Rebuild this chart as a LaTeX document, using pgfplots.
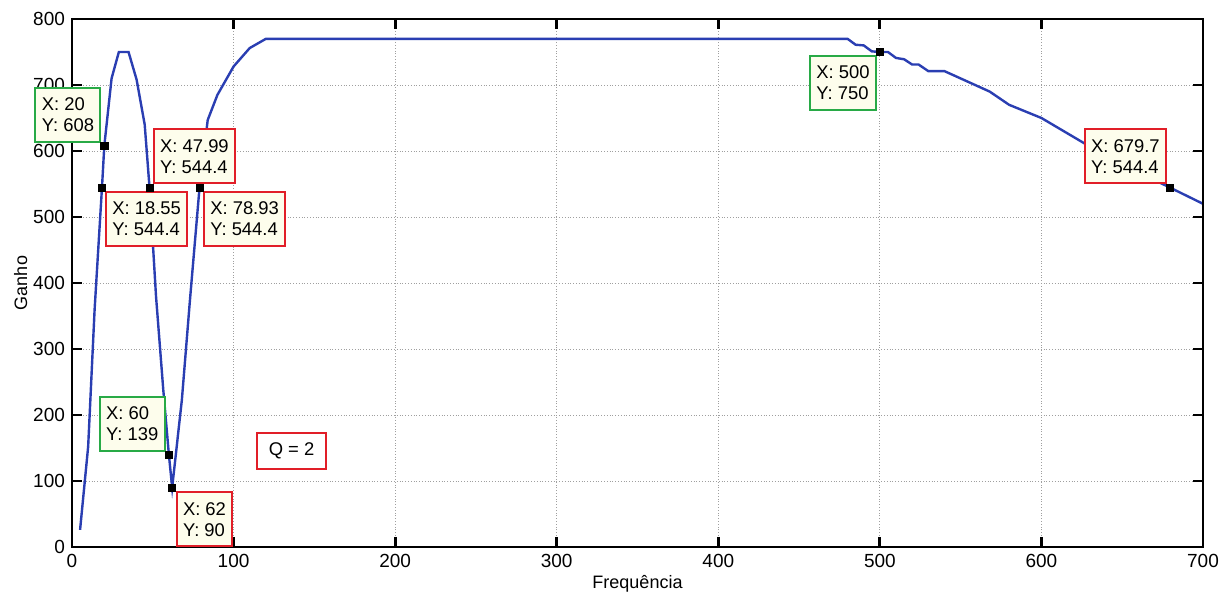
\documentclass[border=0pt]{standalone}
\usepackage{fontspec}
\setmainfont{Liberation Sans}
\usepackage{pgfplots}
\pgfplotsset{compat=1.18}
\definecolor{curveblue}{RGB}{42,62,178}
\definecolor{tipgreen}{RGB}{40,170,70}
\definecolor{tipred}{RGB}{225,30,40}
\definecolor{tipfill}{RGB}{253,253,236}
\tikzset{tipbox/.style={draw, line width=1pt, fill=tipfill, align=left,
    font=\fontsize{9.2}{10.5}\selectfont, inner xsep=3.2pt, inner ysep=5pt}}
\begin{document}
\begin{tikzpicture}
\useasboundingbox (-36pt,-22.5pt) rectangle (578.5pt,273.5pt);
\begin{axis}[
  at={(0,0)}, anchor=south west,
  scale only axis, width=565.5pt, height=264pt,
  xmin=0, xmax=700, ymin=0, ymax=800,
  xtick={0,100,...,700}, ytick={0,100,...,800},
  xtick pos=both, ytick pos=both,
  grid=major,
  major grid style={densely dotted, gray!75, line width=0.4pt},
  tick align=inside,
  major tick length=5pt,
  tick style={black, line width=1.4pt},
  axis line style={black, line width=1.3pt},
  tick label style={font=\fontsize{9.5}{11}\selectfont},
  /pgf/number format/assume math mode=true,
  xlabel={Frequência}, ylabel={Ganho},
  label style={font=\fontsize{9}{11}\selectfont},
  xlabel style={at={(axis description cs:0.5,0)}, anchor=base, yshift=-21pt},
  ylabel style={at={([xshift=-25.6pt]axis description cs:0,0.5)}, anchor=center},
  clip=false,
]
\addplot[curveblue, line width=1.2pt] coordinates {
(5,26) (10,152) (14,360) (18.55,544.4) (20,608) (24.5,710) (29,750) (35,750)
(40,708) (45,640) (47.99,544.4) (52,380) (56.5,238) (60,139) (62,90)
(68,223) (73,374) (78.93,544.4) (84,647) (90,685) (100,728) (110,756) (120,770)
(480,770) (485,761) (490,760) (495,751) (500,750) (505,750) (510,741) (515,739)
(520,731) (524,731) (530,721) (540,721) (568,690) (580,670) (600,650) (627,611)
(650,580) (679.7,544.4) (700,520)
};
\addplot[only marks, mark=square*, mark size=1.8pt, black] coordinates {
(20,608) (18.55,544.4) (47.99,544.4) (78.93,544.4) (60,139) (62,90) (500,750) (679.7,544.4)
};
\draw[black, line width=1.3pt] (rel axis cs:0,0) rectangle (rel axis cs:1,1);
\node[tipbox, draw=tipgreen] at (axis cs:-2.5,655) {X: 20\\Y: 608};
\node[tipbox, draw=tipred] at (axis cs:75.8,592) {X: 47.99\\Y: 544.4};
\node[tipbox, draw=tipred] at (axis cs:46.2,497) {X: 18.55\\Y: 544.4};
\node[tipbox, draw=tipred] at (axis cs:106.8,497) {X: 78.93\\Y: 544.4};
\node[tipbox, draw=tipgreen] at (axis cs:37.3,186.5) {X: 60\\Y: 139};
\node[tipbox, draw=tipred] at (axis cs:82,41.7) {X: 62\\Y: 90};
\node[tipbox, draw=tipred, fill=white, inner xsep=6pt, inner ysep=5pt] at (axis cs:135.9,145.8) {Q = 2};
\node[tipbox, draw=tipgreen] at (axis cs:477.2,703) {X: 500\\Y: 750};
\node[tipbox, draw=tipred] at (axis cs:652,592) {X: 679.7\\Y: 544.4};
\end{axis}
\end{tikzpicture}
\end{document}
